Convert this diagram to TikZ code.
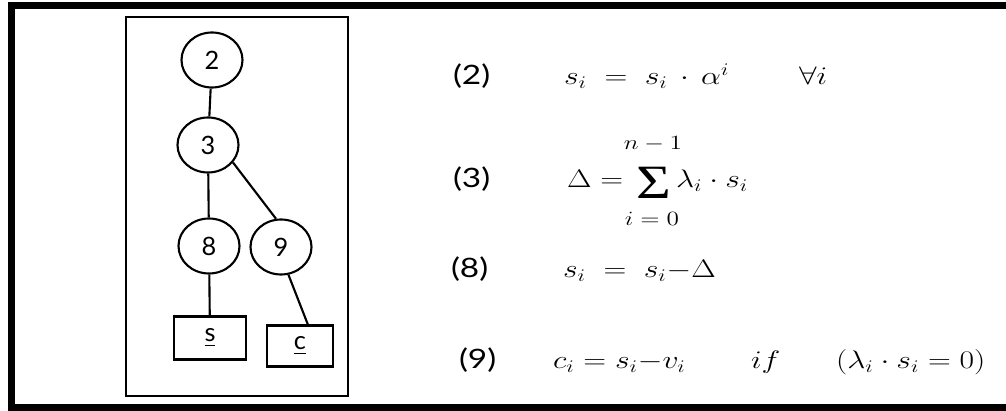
\RequirePackage{fix-cm}
\documentclass[tikz,border=0pt]{standalone}
\usepackage{amsmath}
\usepackage{fontspec}
\usepackage{graphicx}
\usetikzlibrary{shapes.geometric,positioning}
\newfontfamily\numfont{Lato}
\newfontfamily\sigfont{Liberation Serif}
\newcommand{\wide}[1]{\scalebox{1.25}[1]{#1}}

\begin{document}
\begin{tikzpicture}[x=0.025cm,y=-0.025cm,line width=1.5pt,
    op/.style={draw,ellipse,minimum width=1.525cm,minimum height=1.375cm,inner sep=0pt,font=\fontsize{18}{22}\selectfont\numfont},
    res/.style={draw,rectangle,inner sep=0pt,font=\fontsize{18}{22}\selectfont\numfont},
    eq/.style={anchor=base west,inner sep=0pt,font=\fontsize{18}{22}\selectfont},
    lim/.style={anchor=base,inner sep=0pt,font=\fontsize{14.4}{17}\selectfont},
    num/.style={anchor=base west,inner sep=0pt,font=\fontsize{19}{22}\selectfont\numfont}]
    \useasboundingbox (0,0) rectangle (1006,411);
    % frame and tree box
    \draw[line width=5pt] (1006,5.5) -- (11.5,5.5) -- (11.5,407.5) -- (1006,407.5);
    \draw (126,17) rectangle (348,396);

    \node[op] (n2) at (212,60) {2};
    \node[op] (n3) at (208,145) {3};
    \node[op] (n8) at (209,246) {8};
    \node[op] (n9) at (281,247) {9};
    \node[res,minimum width=1.8cm,minimum height=1.075cm] (s) at (210,338) {\underline{s}};
    \node[res,minimum width=1.65cm,minimum height=1.025cm] (c) at (300,346) {\underline{c}};
    \draw (n2) -- (n3);
    \draw (n3) -- (n8);
    \draw (n3.-35) -- (n9.100);
    \draw (n8) -- (s);
    \draw (n9.-75) -- (c.70);

    % equations
    \node[num] (l2) at (452,85) {\wide{(2)}};
    \node[eq] (e2) at (563,85) {\wide{$s_i \;=\; s_i\,\cdot\,\alpha^i$}};
    \node[eq] (q2) at (798,85) {\wide{$\forall i$}};

    \node[num] (l3) at (452,188) {\wide{(3)}};
    \node[eq] (e3) at (566,188) {\wide{$\Delta =$}};
    \node[anchor=base,inner sep=0pt,font=\fontsize{34}{40}\selectfont\sigfont] (sum) at (654,199) {\wide{Σ}};
    \node[lim] (top) at (653,150) {\wide{$n-1$}};
    \node[lim] (bot) at (652,226) {\wide{$i=0$}};
    \node[eq] (e3b) at (675,188) {\wide{$\lambda_i\cdot s_i$}};

    \node[num] (l8) at (450,278) {\wide{(8)}};
    \node[eq] (e8) at (562,278) {\wide{$s_i \;=\; s_i{-}\Delta$}};

    \node[num] (l9) at (458,369) {\wide{(9)}};
    \node[eq] (e9) at (552,369) {\wide{$c_i = s_i{-}v_i$}};
    \node[eq] (if) at (750,369) {\wide{$if$}};
    \node[eq] (e9b) at (835,369) {\wide{$(\lambda_i\cdot s_i = 0)$}};
\end{tikzpicture}
\end{document}
